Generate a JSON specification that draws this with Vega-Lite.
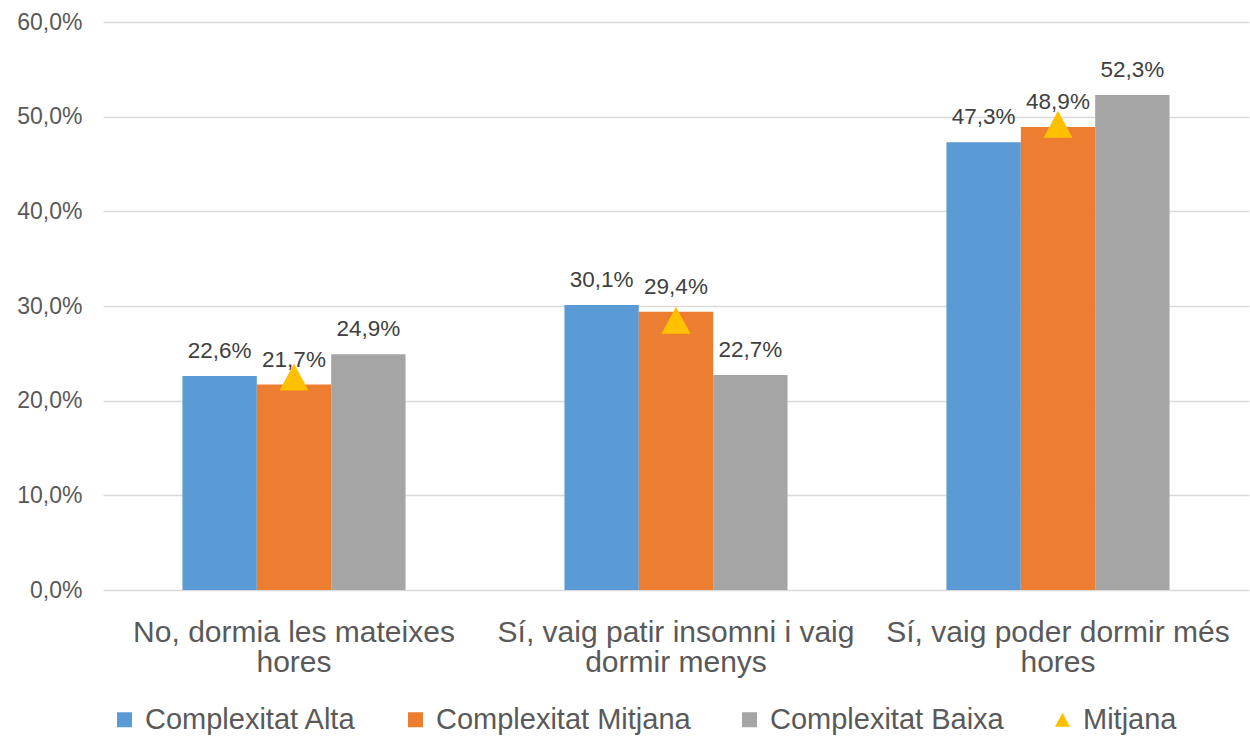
{
  "$schema": "https://vega.github.io/schema/vega-lite/v6.json",
  "width": 1146,
  "height": 568,
  "autosize": {"type": "none"},
  "padding": {"left": 103, "top": 22, "right": 1, "bottom": 148},
  "background": "white",
  "config": {
    "view": {"stroke": null},
    "font": "Liberation Sans",
    "locale": {"number": {"decimal": ",", "thousands": ".", "grouping": [3], "currency": ["", " €"]}}
  },
  "datasets": {
    "bars": [
      {"category": "No, dormia les mateixes hores", "series": "Complexitat Alta", "value": 0.226},
      {"category": "No, dormia les mateixes hores", "series": "Complexitat Mitjana", "value": 0.217},
      {"category": "No, dormia les mateixes hores", "series": "Complexitat Baixa", "value": 0.249},
      {"category": "Sí, vaig patir insomni i vaig dormir menys", "series": "Complexitat Alta", "value": 0.301},
      {"category": "Sí, vaig patir insomni i vaig dormir menys", "series": "Complexitat Mitjana", "value": 0.294},
      {"category": "Sí, vaig patir insomni i vaig dormir menys", "series": "Complexitat Baixa", "value": 0.227},
      {"category": "Sí, vaig poder dormir més hores", "series": "Complexitat Alta", "value": 0.473},
      {"category": "Sí, vaig poder dormir més hores", "series": "Complexitat Mitjana", "value": 0.489},
      {"category": "Sí, vaig poder dormir més hores", "series": "Complexitat Baixa", "value": 0.523}
    ],
    "mean": [
      {"category": "No, dormia les mateixes hores", "series": "Mitjana", "value": 0.225},
      {"category": "Sí, vaig patir insomni i vaig dormir menys", "series": "Mitjana", "value": 0.285},
      {"category": "Sí, vaig poder dormir més hores", "series": "Mitjana", "value": 0.492}
    ]
  },
  "layer": [
    {
      "data": {"name": "bars"},
      "mark": {"type": "bar"},
      "encoding": {
        "x": {
          "field": "category", "type": "nominal",
          "sort": ["No, dormia les mateixes hores", "Sí, vaig patir insomni i vaig dormir menys", "Sí, vaig poder dormir més hores"],
          "scale": {"paddingInner": 0.416, "paddingOuter": 0.208},
          "axis": {
            "title": null, "labelAngle": 0, "ticks": false, "domain": false,
            "labelFontSize": 30, "labelColor": "#595959", "labelPadding": 27,
            "labelLineHeight": 30, "labelLimit": 1000, "labelOverlap": false, "labelBound": false,
            "labelExpr": "datum.value == 'No, dormia les mateixes hores' ? ['No, dormia les mateixes', 'hores'] : datum.value == 'Sí, vaig patir insomni i vaig dormir menys' ? ['Sí, vaig patir insomni i vaig', 'dormir menys'] : ['Sí, vaig poder dormir més', 'hores']"
          }
        },
        "xOffset": {"field": "series", "type": "nominal", "sort": ["Complexitat Alta", "Complexitat Mitjana", "Complexitat Baixa"], "scale": {"paddingInner": 0}},
        "y": {
          "field": "value", "type": "quantitative",
          "scale": {"domain": [0, 0.6], "nice": false},
          "axis": {
            "title": null, "format": ".1%", "values": [0, 0.1, 0.2, 0.3, 0.4, 0.5, 0.6],
            "ticks": false, "domain": false, "gridColor": "#D9D9D9", "gridWidth": 1.3,
            "labelFontSize": 23, "labelColor": "#595959", "labelPadding": 21
          }
        },
        "color": {
          "field": "series", "type": "nominal",
          "scale": {"domain": ["Complexitat Alta", "Complexitat Mitjana", "Complexitat Baixa", "Mitjana"], "range": ["#5B9BD5", "#ED7D31", "#A5A5A5", "#FFC000"]},
          "legend": {
            "orient": "none", "legendX": 7, "legendY": 683, "direction": "horizontal", "columns": 4,
            "title": null, "labelFontSize": 29, "labelColor": "#595959", "symbolSize": 225,
            "symbolStrokeWidth": 0, "columnPadding": 44, "labelOffset": 6, "labelLimit": 1000
          }
        }
      }
    },
    {
      "data": {"name": "bars"},
      "mark": {"type": "text", "dy": -18, "baseline": "alphabetic", "fontSize": 22.5, "color": "#404040"},
      "encoding": {
        "x": {"field": "category", "type": "nominal", "sort": ["No, dormia les mateixes hores", "Sí, vaig patir insomni i vaig dormir menys", "Sí, vaig poder dormir més hores"]},
        "xOffset": {"field": "series", "type": "nominal", "sort": ["Complexitat Alta", "Complexitat Mitjana", "Complexitat Baixa"]},
        "y": {"field": "value", "type": "quantitative"},
        "text": {"field": "value", "type": "quantitative", "format": ".1%"}
      }
    },
    {
      "data": {"name": "mean"},
      "mark": {"type": "point", "filled": true, "size": 841, "opacity": 1},
      "encoding": {
        "x": {"field": "category", "type": "nominal", "sort": ["No, dormia les mateixes hores", "Sí, vaig patir insomni i vaig dormir menys", "Sí, vaig poder dormir més hores"]},
        "y": {"field": "value", "type": "quantitative"},
        "color": {"field": "series", "type": "nominal"},
        "shape": {
          "field": "series", "type": "nominal",
          "scale": {"domain": ["Complexitat Alta", "Complexitat Mitjana", "Complexitat Baixa", "Mitjana"], "range": ["square", "square", "square", "M0,-0.93L1,0.93L-1,0.93Z"]}
        }
      }
    }
  ]
}
